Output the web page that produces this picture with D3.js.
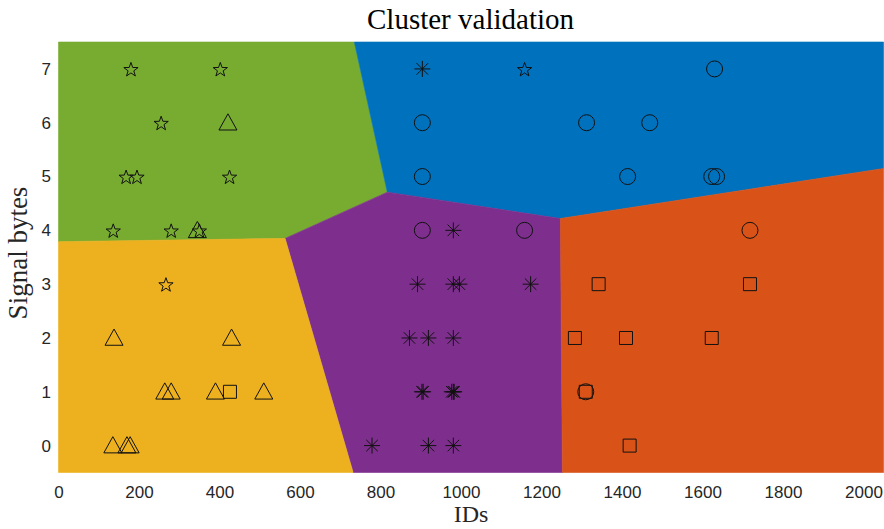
<!DOCTYPE html>
<html><head><meta charset="utf-8">
<script src="https://cdn.jsdelivr.net/npm/d3@7"></script>
<style>body{margin:0;background:#fff}svg{display:block}</style>
</head><body>
<svg id="chart" width="884" height="529"></svg>
<script>
// ---- data ----
const xTicks = [0,200,400,600,800,1000,1200,1400,1600,1800,2000];
const yTicks = [0,1,2,3,4,5,6,7];
// decision regions (vertices in data coordinates)
const regionGreen  = [[0,7.5],[735,7.5],[817,4.71],[563,3.85],[0,3.79]];
const regionBlue   = [[735,7.5],[2050,7.5],[2050,5.15],[1247,4.22],[817,4.71]];
const regionPurple = [[563,3.85],[817,4.71],[1247,4.22],[1252,-0.5],[732,-0.5]];
const regionYellow = [[0,3.79],[563,3.85],[732,-0.5],[0,-0.5]];
const regionOrange = [[1247,4.22],[2050,5.15],[2050,-0.5],[1252,-0.5]];
// points per marker class [ID, signal bytes]
const stars = [[180,7],[402,7],[1158,7],[255,6],[168,5],[195,5],[425,5],[136,4],[280,4],[350,4],[267,3]];
const triangles = [[421,6],[345,4],[138,2],[430,2],[264,1],[280,1],[390,1],[510,1],[135,0],[170,0],[178,0]];
const squares = [[426,1],[1342,3],[1718,3],[1283,2],[1410,2],[1623,2],[1310,1],[1419,0]];
const circles = [[1630,7],[904,6],[1312,6],[1469,6],[904,5],[1414,5],[1623,5],[1635,5],[904,4],[1158,4],[1718,4],[1310,1]];
const asterisks = [[904,7],[981,4],[892,3],[981,3],[996,3],[1173,3],[872,2],[919,2],[981,2],[903,1],[906,1],[977,1],[981,1],[983,1],[779,0],[919,0],[981,0]];

const svg = d3.select("#chart");
const L=58.5, R=883.6, T=42, B=472.5;
const x = d3.scaleLinear().domain([0,2050]).range([L,R]);
const y = d3.scaleLinear().domain([-0.5,7.5]).range([B,T]);

const regions = [
  {pts:regionGreen,  c:"#77AC30"},
  {pts:regionBlue,   c:"#0072BD"},
  {pts:regionPurple, c:"#7E2F8E"},
  {pts:regionYellow, c:"#EDB120"},
  {pts:regionOrange, c:"#D95319"}
];
const line = d3.line().x(d=>x(d[0])).y(d=>y(d[1]));
svg.append("g").selectAll("path").data(regions).join("path")
  .attr("d", d=>line(d.pts)+"Z").attr("fill", d=>d.c)
  .attr("stroke", d=>d.c).attr("stroke-width",0.6);

// marker shapes (size = pixel extent)
const starType = {draw(ctx, s){ const R0=s/2, r0=R0*0.4;
  for(let i=0;i<10;i++){ const a=-Math.PI/2+i*Math.PI/5, rr=i%2?r0:R0;
    const px=rr*Math.cos(a), py=rr*Math.sin(a)+1; i?ctx.lineTo(px,py):ctx.moveTo(px,py);} ctx.closePath(); }};
const triType = {draw(ctx, s){ const w=s, h=s*0.9;
  ctx.moveTo(0,-h*0.55); ctx.lineTo(w/2,h*0.45); ctx.lineTo(-w/2,h*0.45); ctx.closePath(); }};
const sqType = {draw(ctx, s){ const h=s/2; ctx.rect(-h,-h,s,s); }};
const circType = {draw(ctx, s){ const r=s/2; ctx.moveTo(r,0); ctx.arc(0,0,r,0,2*Math.PI); }};
const astType = {draw(ctx, s){ const h=s/2, d=h*0.72;
  ctx.moveTo(-h,0); ctx.lineTo(h,0); ctx.moveTo(0,-h); ctx.lineTo(0,h);
  ctx.moveTo(-d,-d); ctx.lineTo(d,d); ctx.moveTo(-d,d); ctx.lineTo(d,-d); }};

const groups = [
  {data:stars, type:starType, size:15},
  {data:triangles, type:triType, size:18},
  {data:squares, type:sqType, size:13},
  {data:circles, type:circType, size:16},
  {data:asterisks, type:astType, size:16}
];
const mk = svg.append("g");
groups.forEach(g=>{
  mk.append("g").selectAll("path").data(g.data).join("path")
    .attr("d", d3.symbol().type(g.type).size(g.size))
    .attr("transform", d=>`translate(${x(d[0])},${y(d[1])})`)
    .attr("fill","none").attr("stroke","#111").attr("stroke-width",1);
});

// axes
const xa = svg.append("g").attr("transform",`translate(0,${B})`)
  .call(d3.axisBottom(x).tickValues(xTicks).tickFormat(d3.format("d")).tickSize(0).tickPadding(13));
const ya = svg.append("g").attr("transform",`translate(${L},0)`)
  .call(d3.axisLeft(y).tickValues(yTicks).tickFormat(d3.format("d")).tickSize(0).tickPadding(7.5));
[xa,ya].forEach(a=>{ a.select(".domain").remove();
  a.attr("font-family","'Liberation Sans',Arial,Helvetica,sans-serif").attr("font-size",17);
  a.selectAll("text").attr("fill","#262626"); });

const serif = "'Liberation Serif','Times New Roman',serif";
const title = svg.append("text").attr("x",470.5).attr("y",29).attr("text-anchor","middle")
  .style("font-family",serif).style("font-size","29px").attr("fill","#000").text("Cluster validation");
const xl = svg.append("text").attr("x",471).attr("y",522).attr("text-anchor","middle")
  .style("font-family",serif).style("font-size","24px").attr("fill","#262626").text("IDs");
const yl = svg.append("text").attr("transform",`translate(27,253) rotate(-90)`).attr("text-anchor","middle")
  .style("font-family",serif).style("font-size","27px").attr("fill","#262626").text("Signal bytes");
</script>
</body></html>
